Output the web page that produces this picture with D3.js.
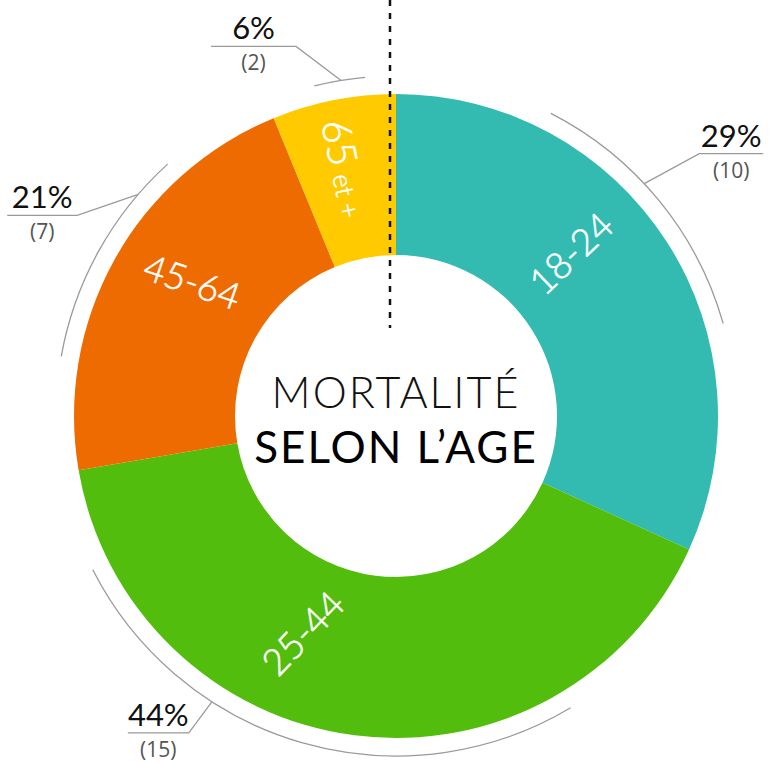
<!DOCTYPE html>
<html>
<head>
<meta charset="utf-8">
<script src="https://cdn.jsdelivr.net/npm/d3@7"></script>
<style>
	body { margin: 0; background: #fff; }
	svg { display: block; }
</style>
</head>
<body>
<div id="chart"></div>
<script>
// DATA
var ageGroups = ["18-24", "25-44", "45-64", "65"];
var percentLabels = ["29%", "44%", "21%", "6%"];
var deathCounts = [10, 15, 7, 2];
// SHARE OF THE RING EACH SLICE TAKES, AS DRAWN (IN %)
var sliceShares = [31.8, 40.5, 21.5, 6.2];

var colors = ["#34bbb1", "#52bd0c", "#ee6b02", "#ffca00"];

var WIDTH = 774, HEIGHT = 762;
var CX = 396, CY = 416;
var OUTER = 322, INNER = 161, BRACKET = 340;
var rad = Math.PI / 180;

//LAYOUT: BRACKET ARCS [from, to] AND LEADER TOUCH ANGLE (DEGREES FROM TOP)
var brackets = [[27.1, 74.2], [149.1, 243.1], [280.1, 317.8], [346.1, 354.8]];
var leaderAngle = [46.9, 212.8, 310.7, 350.7];
//ELBOW OFFSET FROM TOUCH POINT, AND LENGTH/DIRECTION OF THE FLAT PART
var elbows = [[55, -30, 64], [-23, 31, -61], [-61, 21, -70], [-45, -34, -85]];
//IN-SLICE LABEL: [angle, radius, rotation]
var labelPlace = [[47.1, 239, -43.6], [203.2, 236, -46], [303.4, 244, 19], [348.2, 253, 78]];

function polar(angle, r){
	return [CX + r * Math.sin(angle * rad), CY - r * Math.cos(angle * rad)];
}

var svg = d3.select("#chart").append("svg")
	.attr("width", WIDTH)
	.attr("height", HEIGHT);

var pie = d3.pie().sort(null).value(function(d){ return d; });
var arcs = pie(sliceShares);

var ring = d3.arc().innerRadius(INNER).outerRadius(OUTER);

var g = svg.append("g").attr("transform", "translate(" + CX + "," + CY + ")");

g.selectAll("path.slice")
	.data(arcs)
	.enter()
	.append("path")
	.attr("class", "slice")
	.attr("d", ring)
	.attr("fill", function(d, i){ return colors[i]; });

//BRACKETS OUTSIDE THE RING
var bracketArc = d3.arc().innerRadius(BRACKET).outerRadius(BRACKET);
g.selectAll("path.bracket")
	.data(brackets)
	.enter()
	.append("path")
	.attr("class", "bracket")
	.attr("d", function(b){
		return bracketArc({startAngle: b[0] * rad, endAngle: b[1] * rad});
	})
	.attr("fill", "none")
	.attr("stroke", "#9a9a9a")
	.attr("stroke-width", 1.3);

//LEADERS + PERCENT / COUNT TEXT
ageGroups.forEach(function(name, i){
	var p0 = polar(leaderAngle[i], BRACKET);
	var e = elbows[i];
	var p1 = [p0[0] + e[0], p0[1] + e[1]];
	var p2 = [p1[0] + e[2], p1[1]];
	svg.append("polyline")
		.attr("points", [p0, p1, p2].map(function(p){ return p.join(","); }).join(" "))
		.attr("fill", "none")
		.attr("stroke", "#9a9a9a")
		.attr("stroke-width", 1.3);

	var mid = (p1[0] + p2[0]) / 2;
	svg.append("text")
		.attr("x", mid)
		.attr("y", p1[1] - 7)
		.attr("text-anchor", "middle")
		.style("font-family", "Lato, 'Noto Sans', sans-serif")
		.style("font-size", "31px")
		.attr("fill", "#111")
		.text(percentLabels[i]);
	svg.append("text")
		.attr("x", mid)
		.attr("y", p1[1] + 24)
		.attr("text-anchor", "middle")
		.style("font-family", "'Open Sans', 'Noto Sans', sans-serif")
		.style("font-size", "21px")
		.attr("fill", "#555")
		.text("(" + deathCounts[i] + ")");
});

//LABELS INSIDE THE SLICES
ageGroups.forEach(function(name, i){
	var lp = labelPlace[i];
	var p = polar(lp[0], lp[1]);
	var t = svg.append("text")
		.attr("transform", "translate(" + p[0] + "," + p[1] + ") rotate(" + lp[2] + ")")
		.attr("text-anchor", "middle")
		.attr("dy", "0.36em")
		.style("font-family", "Lato, 'Noto Sans', sans-serif")
		.style("font-weight", 300)
		.style("font-size", "37px")
		.style("stroke", "#fff")
		.style("stroke-width", 0.6)
		.attr("fill", "#fff");
	if (name == "65") {
		t.append("tspan").style("font-size", "40px").text("65");
		t.append("tspan").attr("dx", 8).style("font-size", "26px").text("et +");
	} else {
		t.text(name);
	}//endif
});

//DASHED MARKER
svg.append("line")
	.attr("x1", 390).attr("x2", 390)
	.attr("y1", 0).attr("y2", 328)
	.attr("stroke", "#111")
	.attr("stroke-width", 2.5)
	.attr("stroke-dasharray", "6,7");

//CENTER TITLE
svg.append("text")
	.attr("x", CX).attr("y", 408)
	.attr("text-anchor", "middle")
	.style("font-family", "Lato, 'Noto Sans', sans-serif")
	.style("font-weight", 300)
	.style("font-size", "43px")
	.style("letter-spacing", "2px")
	.attr("fill", "#111")
	.text("MORTALITÉ");
svg.append("text")
	.attr("x", CX).attr("y", 463)
	.attr("text-anchor", "middle")
	.style("font-family", "Lato, 'Noto Sans', sans-serif")
	.style("font-weight", 400)
	.style("font-size", "44px")
	.style("letter-spacing", "2px")
	.attr("fill", "#000")
	.text("SELON L’AGE");
</script>
</body>
</html>
